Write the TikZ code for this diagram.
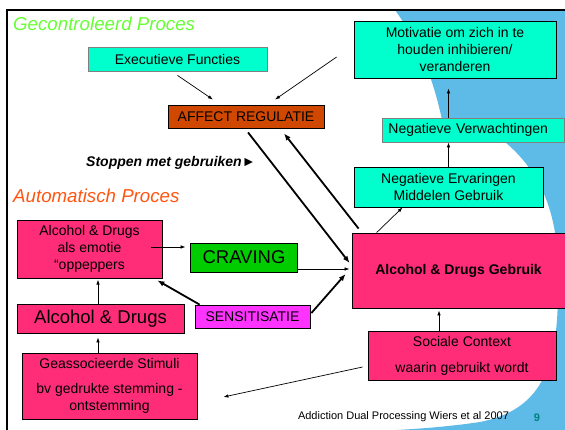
\documentclass[tikz,border=0pt]{standalone}
\usepackage{fontspec}
\setmainfont{Liberation Sans}
\usetikzlibrary{arrows.meta}
\definecolor{turq}{RGB}{0,255,204}
\definecolor{affor}{RGB}{208,72,0}
\definecolor{pinkbox}{RGB}{255,45,120}
\definecolor{cravgr}{RGB}{0,204,0}
\definecolor{sensmag}{RGB}{255,51,255}
\definecolor{bgblue}{RGB}{94,186,230}
\definecolor{titlegr}{RGB}{102,255,51}
\definecolor{titleor}{RGB}{255,85,17}
\definecolor{pgteal}{RGB}{0,128,128}
\begin{document}
\begin{tikzpicture}[
          bx/.style={draw=black, line width=0.8pt, inner sep=0pt, align=center, font=\fontsize{14}{17}\selectfont},
          tq/.style={bx, fill=turq},
          pk/.style={bx, fill=pinkbox},
          ln/.style={line width=0.7pt, -{Latex[length=5pt,width=3.5pt]}},
          tk/.style={line width=1.8pt, -{Latex[length=7pt,width=5.5pt]}},
          ttl/.style={anchor=west, inner sep=0pt, font=\fontsize{18.7}{22}\selectfont\itshape},
          x=1pt,
          y=-1pt,
        ]
      \useasboundingbox (0,0) rectangle (565,430);
      % background swoosh and slide frame
      \fill[bgblue] (395,10) .. controls (420,45) and (435,80) .. (445,135) -- (505,142)
        .. controls (550,180) and (560,230) .. (558,290)
        .. controls (558,370) and (540,410) .. (480,422)
        .. controls (440,428) and (400,430) .. (375,431) -- (565,431) -- (565,10) -- cycle;
      \draw[line width=2.5pt] (7,431) -- (7,10) -- (566,10);
      % titles
      \node[ttl, text=titlegr] (gec) at (13,24) {Gecontroleerd Proces};
      \node[ttl, text=titleor] (aut) at (13,196) {Automatisch Proces};
      \node[anchor=west, inner sep=0pt, font=\fontsize{14}{17}\selectfont\bfseries\itshape] (stop) at (86,163) {Stoppen met gebruiken►};
      % controlled process
      \node[tq, draw=gray, minimum width=179pt, minimum height=24pt] (exe) at (177.5,59) {Executieve Functies};
      \node[bx, fill=affor, minimum width=156pt, minimum height=23pt] (aff) at (246,116.5) {AFFECT REGULATIE};
      \node[tq, minimum width=202pt, minimum height=57pt] (mot) at (455,49.5) {Motivatie om zich in te\\houden inhibieren/\\veranderen};
      \node[tq, draw=gray, anchor=west, minimum height=24pt, text width=170pt, align=left, inner xsep=6pt] (verw) at (382,130) {Negatieve Verwachtingen};
      \node[tq, minimum width=189pt, minimum height=40pt] (erv) at (448.5,187) {Negatieve Ervaringen\\Middelen Gebruik};
      \node[pk, minimum width=213pt, minimum height=75pt, font=\fontsize{14}{17}\selectfont\bfseries] (gebr) at (458.5,270.5) {Alcohol \& Drugs Gebruik};
      \node[pk, minimum width=188pt, minimum height=49pt] (soc) at (462,355.5) {Sociale Context\\[9pt]waarin gebruikt wordt};
      % automatic process
      \node[pk, minimum width=145pt, minimum height=58pt] (emo) at (89.5,249) {Alcohol \& Drugs\\als emotie\\“oppeppers};
      \node[bx, fill=cravgr, minimum width=107pt, minimum height=29pt, font=\fontsize{18.5}{22}\selectfont] (crav) at (244,257.5) {CRAVING};
      \node[bx, fill=sensmag, minimum width=115pt, minimum height=23pt] (sens) at (252.5,316.5) {SENSITISATIE};
      \node[pk, minimum width=167pt, minimum height=29pt, font=\fontsize{18.5}{22}\selectfont] (ad) at (100.5,318.5) {Alcohol \& Drugs};
      \node[pk, minimum width=175pt, minimum height=66pt] (stim) at (109.5,386) {Geassocieerde Stimuli\\[8pt]bv gedrukte stemming -\\ontstemming};
      % footer
      \node[font=\fontsize{11}{13}\selectfont] (foot) at (403.5,417) {Addiction Dual Processing Wiers et al 2007};
      \node[font=\fontsize{11}{13}\selectfont\bfseries, text=pgteal] (pg) at (537,418) {9};
      % connectors
      \draw[ln] ([yshift=-4pt]exe.south) -- ([xshift=-33pt,yshift=5pt]aff.north);
      \draw[ln] ([xshift=-17pt,yshift=-7.5pt]mot.west) -- ([xshift=29pt,yshift=5pt]aff.north);
      \draw[tk] ([xshift=2pt,yshift=-4pt]aff.south) -- ([xshift=-2pt,yshift=7.5pt]gebr.west);
      \draw[tk] ([xshift=7pt,yshift=4pt]gebr.north west) -- ([xshift=38pt,yshift=-5pt]aff.south);
      \draw[ln] ([xshift=25pt]gebr.north west) -- ([xshift=49pt]erv.south west);
      \draw[ln] (erv.north) -- (erv.north |- verw.south);
      \draw[ln, shorten >=10pt] (erv.north |- verw.north) -- (erv.north |- mot.south);
      \draw[ln] ([yshift=-11.5pt]crav.east) -- ([xshift=-2pt,yshift=1.5pt]gebr.west);
      \draw[tk] ([xshift=1pt,yshift=3.5pt]sens.east) -- ([xshift=-6pt,yshift=-3.5pt]gebr.west);
      \draw[tk] ([xshift=5pt]sens.north west) -- ([xshift=-5pt,yshift=-2pt]emo.south east);
      \draw[ln] ([xshift=-11pt,yshift=2pt]emo.east) -- ([xshift=-4.5pt,yshift=10.5pt]crav.west);
      \draw[ln] ([xshift=-2.5pt]ad.north) -- ([xshift=-2.5pt,yshift=24pt]ad.north);
      \draw[ln, shorten >=4pt] ([xshift=-11.5pt]stim.north) -- ([xshift=-2.5pt]ad.south);
      \draw[ln, shorten >=2pt] ([xshift=-23pt]soc.north) -- ([xshift=-19.5pt]gebr.south);
      \draw[ln] ([xshift=-5pt,yshift=-11.5pt]soc.west) -- ([xshift=26pt,yshift=-11pt]stim.east);
    \end{tikzpicture}
\end{document}
